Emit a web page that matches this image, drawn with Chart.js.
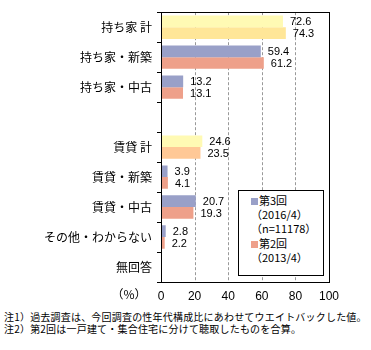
<!DOCTYPE html>
<html>
<head>
<meta charset="utf-8">
<script src="https://cdn.jsdelivr.net/npm/chart.js@4"></script>
<style>
  body { margin: 0; background: #fff; font-family: "Noto Sans CJK JP", sans-serif; }
  #wrap { position: relative; width: 371px; height: 350px; }
  #chartBox { position: absolute; left: 0; top: 0; width: 371px; height: 305px; }
  #legendBox {
    position: absolute; left: 238px; top: 190px; width: 84px; height: 82px;
    border: 1px solid #000; background: #fff; font-size: 11px; line-height: 14.2px;
    padding-top: 2px; box-sizing: content-box; color: #000;
  }
  #legendBox div { padding-left: 12px; white-space: nowrap; }
  .sw { display: inline-block; width: 7px; height: 7px; margin-right: 1px; }
  #notes { position: absolute; left: 4px; top: 311px; font-size: 10px; line-height: 12px; letter-spacing: 0.2px; color: #000; white-space: nowrap; }
</style>
</head>
<body>
<div id="wrap">
  <div id="chartBox"><canvas id="myChart" width="371" height="305"></canvas></div>
  <div id="legendBox"></div>
  <div id="notes">
    注1）過去調査は、今回調査の性年代構成比にあわせてウエイトバックした値。<br>
    注2）第2回は一戸建て・集合住宅に分けて聴取したものを合算。
  </div>
</div>
<script>
const categories = ["持ち家 計", "持ち家・新築", "持ち家・中古", "", "賃貸 計", "賃貸・新築", "賃貸・中古", "その他・わからない", "無回答"];
const round3 = [72.6, 59.4, 13.2, null, 24.6, 3.9, 20.7, 2.8, null];
const round2 = [74.3, 61.2, 13.1, null, 23.5, 4.1, 19.3, 2.2, null];
const xTicks = [0, 20, 40, 60, 80, 100];
const legendLines3 = ["第3回", "（2016/4）", "（n=11178）"];
const legendLines2 = ["第2回", "（2013/4）"];

const BLUE = "#99a0c8", SALMON = "#eea08a";
const YELLOW1 = "#fffab4", YELLOW2 = "#ffe698", ORANGE2 = "#ffc896";

let colors3 = categories.map((c, i) => (i == 0 || i == 4) ? YELLOW1 : BLUE);
let colors2 = categories.map((c, i) => i == 0 ? YELLOW2 : (i == 4 ? ORANGE2 : SALMON));

// legend (html)
let lg = document.getElementById("legendBox");
let html = "";
legendLines3.forEach((t, i) => {
    html += `<div>${i == 0 ? `<span class="sw" style="background:${BLUE}"></span>` : ""}${t}</div>`;
});
legendLines2.forEach((t, i) => {
    html += `<div>${i == 0 ? `<span class="sw" style="background:${SALMON}"></span>` : ""}${t}</div>`;
});
lg.innerHTML = html;

const PLOT_L = 161, PLOT_T = 6, PLOT_B = 282;

const extras = {
    id: "extras",
    beforeDatasetsDraw(chart) {
        // dashed vertical grid lines
        let ctx = chart.ctx;
        let a = chart.chartArea;
        let xs = chart.scales.x;
        ctx.save();
        ctx.strokeStyle = "#999";
        ctx.lineWidth = 1;
        ctx.setLineDash([3, 2]);
        xTicks.forEach(v => {
            if (v == 0 || v == 100) return;
            let px = Math.round(xs.getPixelForValue(v)) + 0.5;
            ctx.beginPath();
            ctx.moveTo(px, a.top);
            ctx.lineTo(px, a.bottom);
            ctx.stroke();
        });
        ctx.restore();
    },
    afterDatasetsDraw(chart) {
        let ctx = chart.ctx;
        let a = chart.chartArea;
        ctx.save();
        // frame
        ctx.strokeStyle = "#000";
        ctx.lineWidth = 1;
        ctx.strokeRect(Math.round(a.left) + 0.5, Math.round(a.top) + 0.5, Math.round(a.right - a.left), Math.round(a.bottom - a.top));
        // value labels
        ctx.font = "11px 'Liberation Sans', sans-serif";
        ctx.fillStyle = "#000";
        ctx.textBaseline = "middle";
        ctx.textAlign = "left";
        chart.data.datasets.forEach((ds, di) => {
            let meta = chart.getDatasetMeta(di);
            meta.data.forEach((bar, i) => {
                let v = ds.data[i];
                if (v == null) return;
                ctx.fillText(v.toFixed(1), bar.x + 7, bar.y + 1);
            });
        });
        // unit
        ctx.font = "12px 'Noto Sans CJK JP', sans-serif";
        ctx.textAlign = "center";
        ctx.fillText("（%）", 129, 294);
        ctx.restore();
    }
};

let ctx = document.getElementById("myChart").getContext("2d");
let chart = new Chart(ctx, {
    type: "bar",
    data: {
        labels: categories,
        datasets: [
            { label: "第3回", data: round3, backgroundColor: colors3, categoryPercentage: 0.78, barPercentage: 1 },
            { label: "第2回", data: round2, backgroundColor: colors2, categoryPercentage: 0.78, barPercentage: 1 }
        ]
    },
    options: {
        indexAxis: "y",
        responsive: false,
        animation: false,
        layout: { padding: { left: 0, right: 42, top: PLOT_T, bottom: 0 } },
        plugins: { legend: { display: false }, tooltip: { enabled: false } },
        scales: {
            x: {
                min: 0, max: 100,
                afterBuildTicks: s => { s.ticks = xTicks.map(v => ({ value: v })); },
                afterFit: s => { s.height = 305 - PLOT_B; },
                grid: { display: false, drawTicks: false },
                border: { display: true, color: "#000" },
                ticks: { color: "#000", padding: 7, font: { family: "'Liberation Sans', sans-serif", size: 12 } }
            },
            y: {
                afterFit: s => { s.width = PLOT_L; },
                grid: { offset: true, drawOnChartArea: false, drawTicks: true, tickLength: 4, color: "#000" },
                border: { display: true, color: "#000" },
                ticks: { color: "#000", padding: 5, font: { family: "'Noto Sans CJK JP', sans-serif", size: 12 } }
            }
        }
    },
    plugins: [extras]
});
</script>
</body>
</html>
